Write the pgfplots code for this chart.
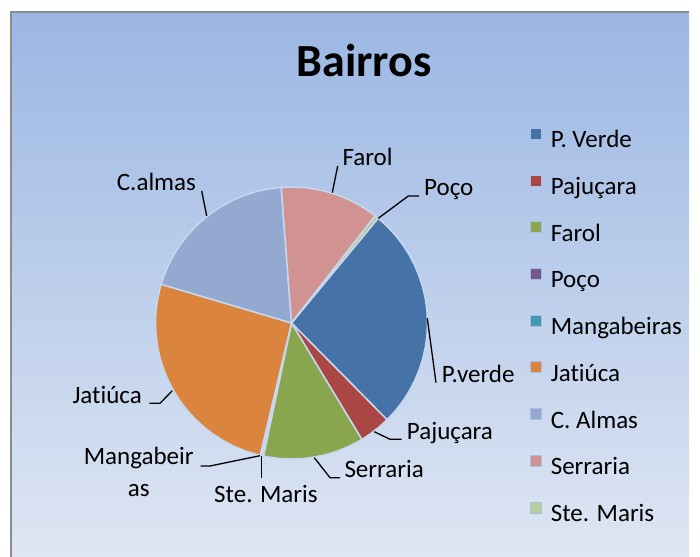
\documentclass[border=0pt]{standalone}
\usepackage{pgfplots}
\pgfplotsset{compat=1.18}
\usepackage{fontspec}
\setmainfont{Carlito}[Ligatures={NoCommon}]
\definecolor{cBlue}{HTML}{4572A7}
\definecolor{cRed}{HTML}{AA4643}
\definecolor{cGreen}{HTML}{89A54E}
\definecolor{cPurple}{HTML}{71588F}
\definecolor{cTeal}{HTML}{4198AF}
\definecolor{cOrange}{HTML}{DB843D}
\definecolor{cLBlue}{HTML}{93A9CF}
\definecolor{cPink}{HTML}{D19392}
\definecolor{cLGreen}{HTML}{B9CD96}
\definecolor{sliceedge}{HTML}{C6D7EF}
\definecolor{bgtop}{RGB}{155,183,227}
\definecolor{bgbot}{RGB}{222,230,243}
\definecolor{legedge}{RGB}{170,190,225}
\begin{document}
\begin{tikzpicture}
\path[use as bounding box] (0,0) rectangle (700bp,557bp);
\shade[top color=bgtop, bottom color=bgbot] (11bp,0bp) rectangle (689bp,545bp);
\draw[color={rgb,255:red,140;green,140;blue,140}, line width=2bp] (11bp,0bp) -- (11bp,545bp) -- (689bp,545bp);
\begin{axis}[
  at={(0,0)}, anchor=south west,
  width=700bp, height=557bp, scale only axis,
  hide axis, clip=false,
  xmin=-291.5, xmax=408.5, ymin=-234, ymax=323,
  legend cell align=left,
  legend image code/.code={\draw[#1, draw=legedge, line width=0.8bp] (0bp,2.5bp) rectangle (11bp,13.5bp);},
  legend style={at={(axis cs:238.5,195)}, anchor=north west, draw=none, fill=none,
    inner sep=0pt, outer sep=0pt,
    font=\fontsize{25bp}{30bp}\selectfont,
    nodes={inner sep=0pt, text height=17bp, text depth=5bp},
    row sep=21.8bp,
    /tikz/every odd column/.append style={column sep=9bp}},
  every axis plot/.append style={line width=1.5bp, draw=sliceedge},
]
% Pie slices: (angle in degrees, radius); shares in %: 26.6, 3.75, 11.95, 0.2, 0.2, 25.9, 19.2, 11.75, 0.45
\addplot[fill=cBlue, data cs=polar] coordinates {(0,0) (50.4,136) (45,136) (40,136) (35,136) (30,136) (25,136) (20,136) (15,136) (10,136) (5,136) (0,136) (-5,136) (-10,136) (-15,136) (-20,136) (-25,136) (-30,136) (-35,136) (-40,136) (-45.36,136)} -- cycle;
\addlegendentry{P. Verde}
\addplot[fill=cRed, data cs=polar] coordinates {(0,0) (-45.36,136) (-50,136) (-55,136) (-58.86,136)} -- cycle;
\addlegendentry{Pajuçara}
\addplot[fill=cGreen, data cs=polar] coordinates {(0,0) (-58.86,136) (-60,136) (-65,136) (-70,136) (-75,136) (-80,136) (-85,136) (-90,136) (-95,136) (-100,136) (-101.88,136)} -- cycle;
\addlegendentry{Farol}
\addplot[fill=cPurple, data cs=polar] coordinates {(0,0) (-101.88,136) (-102.6,136)} -- cycle;
\addlegendentry{Poço}
\addplot[fill=cTeal, data cs=polar] coordinates {(0,0) (-102.6,136) (-103.32,136)} -- cycle;
\addlegendentry{Mangabeiras}
\addplot[fill=cOrange, data cs=polar] coordinates {(0,0) (-103.32,136) (-105,136) (-110,136) (-115,136) (-120,136) (-125,136) (-130,136) (-135,136) (-140,136) (-145,136) (-150,136) (-155,136) (-160,136) (-165,136) (-170,136) (-175,136) (-180,136) (-185,136) (-190,136) (-195,136) (-196.56,136)} -- cycle;
\addlegendentry{Jatiúca}
\addplot[fill=cLBlue, data cs=polar] coordinates {(0,0) (-196.56,136) (-200,136) (-205,136) (-210,136) (-215,136) (-220,136) (-225,136) (-230,136) (-235,136) (-240,136) (-245,136) (-250,136) (-255,136) (-260,136) (-265,136) (-265.68,136)} -- cycle;
\addlegendentry{C. Almas}
\addplot[fill=cPink, data cs=polar] coordinates {(0,0) (-265.68,136) (-270,136) (-275,136) (-280,136) (-285,136) (-290,136) (-295,136) (-300,136) (-305,136) (-307.98,136)} -- cycle;
\addlegendentry{Serraria}
\addplot[fill=cLGreen, data cs=polar] coordinates {(0,0) (-307.98,136) (-309.6,136)} -- cycle;
\addlegendentry{Ste. Maris}
% leader lines
\addplot[forget plot, draw=black, line width=1.3bp] coordinates {(-89.8,132) (-84.8,107)};
\addplot[forget plot, draw=black, line width=1.3bp] coordinates {(46.2,157) (40.8,130.3)};
\addplot[forget plot, draw=black, line width=1.3bp] coordinates {(86.8,104.7) (116.8,127) (127.5,127)};
\addplot[forget plot, draw=black, line width=1.3bp] coordinates {(135.8,4.7) (144.5,-59.7)};
\addplot[forget plot, draw=black, line width=1.3bp] coordinates {(82.8,-108.7) (98.5,-116.3) (110.2,-116.3)};
\addplot[forget plot, draw=black, line width=1.3bp] coordinates {(22.8,-134.7) (38.5,-154.7) (48.5,-154.7)};
\addplot[forget plot, draw=black, line width=1.3bp] coordinates {(-29.8,-132.7) (-29.8,-155.3)};
\addplot[forget plot, draw=black, line width=1.3bp] coordinates {(-31.5,-132.7) (-81.5,-143) (-90.8,-143)};
\addplot[forget plot, draw=black, line width=1.3bp] coordinates {(-119.2,-67.7) (-131.5,-80.3) (-142.2,-80.3)};
% labels
\begin{scope}[every node/.style={inner sep=0pt, font=\fontsize{25bp}{30bp}\selectfont}]
\node[anchor=base west] at (axis cs:-174.8,132.3) {C.almas};
\node[anchor=base west] at (axis cs:50.8,157.3) {Farol};
\node[anchor=base west] at (axis cs:132.5,127.3) {Poço};
\node[anchor=base west] at (axis cs:150.2,-59.7) {P.verde};
\node[anchor=base west] at (axis cs:115.2,-117) {Pajuçara};
\node[anchor=base west] at (axis cs:52.8,-154.3) {Serraria};
\node[anchor=base west] at (axis cs:-77.5,-179.7) {Ste. Maris};
\node[anchor=base] at (axis cs:-152.8,-142) {Mangabeir};
\node[anchor=base] at (axis cs:-152.8,-173.7) {as};
\node[anchor=base west] at (axis cs:-219.2,-80.3) {Jatiúca};
\end{scope}
\node[anchor=base, inner sep=0pt, font=\fontsize{46bp}{55bp}\selectfont\bfseries] at (axis cs:72.5,246) {Bairros};
\end{axis}
\end{tikzpicture}
\end{document}
